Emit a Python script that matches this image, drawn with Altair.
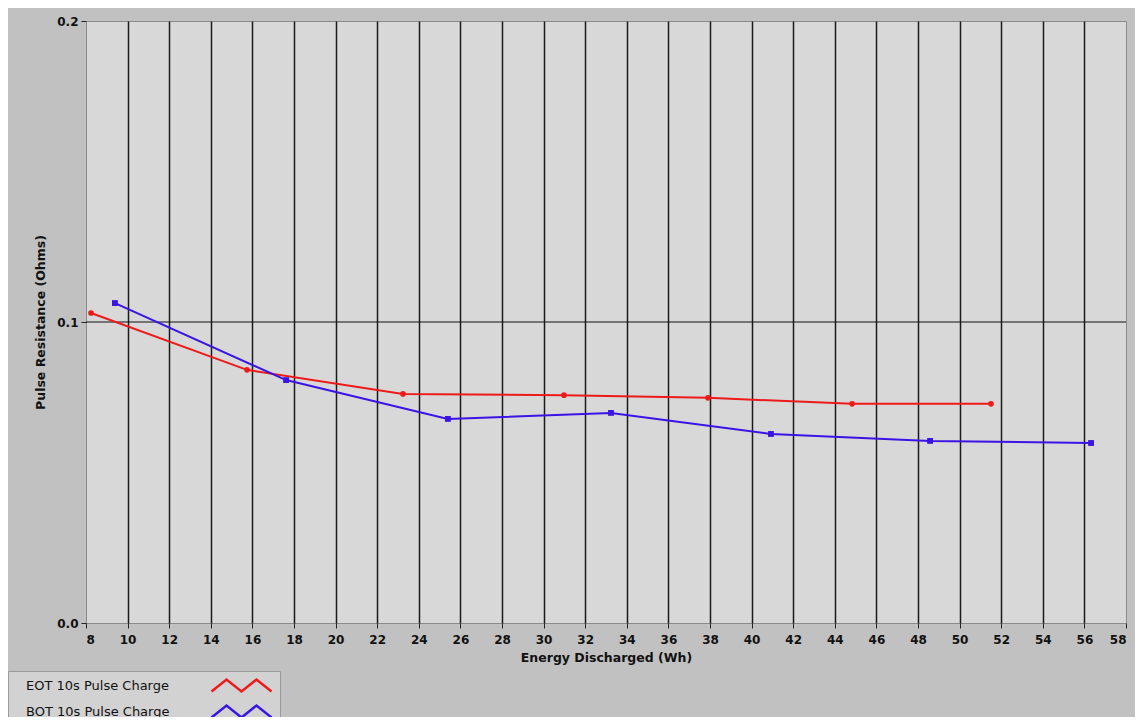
import altair as alt
import pandas as pd

# Data
eot_x = [8.24, 15.74, 23.24, 30.98, 37.9, 44.83, 51.51]
eot_y = [0.103, 0.0841, 0.0761, 0.0757, 0.0748, 0.0728, 0.0728]
bot_x = [9.39, 17.62, 25.4, 33.24, 40.93, 48.58, 56.32]
bot_y = [0.1063, 0.0807, 0.0678, 0.0698, 0.0628, 0.0605, 0.0598]
series_names = ["EOT 10s Pulse Charge", "BOT 10s Pulse Charge"]
series_colors = ["#ee1a1a", "#3a14e6"]
x_ticks = list(range(8, 59, 2))
y_ticks = [0.0, 0.1, 0.2]
ref_line = [0.1]

eot = pd.DataFrame({"x": eot_x, "y": eot_y, "s": series_names[0]})
bot = pd.DataFrame({"x": bot_x, "y": bot_y, "s": series_names[1]})
df = pd.concat([eot, bot])

xscale = alt.Scale(domain=[8, 58], nice=False, zero=False)
yscale = alt.Scale(domain=[0, 0.2], nice=False)

xaxis = alt.Axis(
    values=x_ticks, title="Energy Discharged (Wh)", grid=True,
    gridColor="#1a1a1a", gridWidth=1.5,
    gridOpacity={"expr": "datum.value == 8 || datum.value == 58 ? 0 : 1"},
    domain=False, tickColor="#222", tickSize=5, labelFont="DejaVu Sans",
    labelFontWeight="bold", labelFontSize=12, labelColor="#111",
    labelPadding=6, titleFont="DejaVu Sans", titleFontSize=12.5,
    titleFontWeight="bold", titleColor="#111", titlePadding=6,
)
yaxis = alt.Axis(
    values=y_ticks, format=".1f", title="Pulse Resistance (Ohms)", grid=False,
    domain=False, tickColor="#222", tickSize=5, labelFont="DejaVu Sans",
    labelFontWeight="bold", labelFontSize=12, labelColor="#111",
    labelPadding=3, titleFont="DejaVu Sans", titleFontSize=12.5,
    titleFontWeight="bold", titleColor="#111", titlePadding=9,
)

color = alt.Color(
    "s:N", sort=series_names,
    scale=alt.Scale(domain=series_names, range=series_colors),
    legend=alt.Legend(
        orient="none", legendX=-78, legendY=650, title=None,
        direction="vertical",
        symbolType="M-3,0.6L-1.5,-0.6L0,0.6L1.5,-0.6L3,0.6",
        symbolSize=400, symbolStrokeWidth=2.5, symbolFillColor="transparent",
        symbolOffset=219, labelOffset={"expr": "-227"}, labelFont="DejaVu Sans",
        labelFontSize=13, labelColor="#111", rowPadding=3,
        fillColor="#d2d2d2", strokeColor="#9a9a9a", padding=3,
        labelLimit=300,
    ),
)

lines = alt.Chart(df).mark_line(strokeWidth=2).encode(
    x=alt.X("x:Q", scale=xscale, axis=xaxis),
    y=alt.Y("y:Q", scale=yscale, axis=yaxis),
    color=color,
)
pts_eot = alt.Chart(eot).mark_point(filled=True, size=32, opacity=1, shape="circle",
                                    color=series_colors[0]).encode(
    x=alt.X("x:Q", scale=xscale), y=alt.Y("y:Q", scale=yscale))
pts_bot = alt.Chart(bot).mark_point(filled=True, size=34, opacity=1, shape="square",
                                    color=series_colors[1]).encode(
    x=alt.X("x:Q", scale=xscale), y=alt.Y("y:Q", scale=yscale))
hline = alt.Chart(pd.DataFrame({"y": ref_line})).mark_rule(color="#111", strokeWidth=1.2).encode(
    y=alt.Y("y:Q", scale=yscale)
)

chart = alt.layer(hline, lines, pts_eot, pts_bot).properties(
    width=1040, height=602,
    autosize=alt.AutoSizeParams(type="none"),
    padding={"left": 78, "top": 13, "right": 9, "bottom": 94},
    background="#c1c1c1",
).configure_view(
    fill="#d8d8d8", stroke="#8a8a8a", strokeWidth=1,
)

chart.save("out.html", embed_options={"renderer": "svg", "actions": False})
